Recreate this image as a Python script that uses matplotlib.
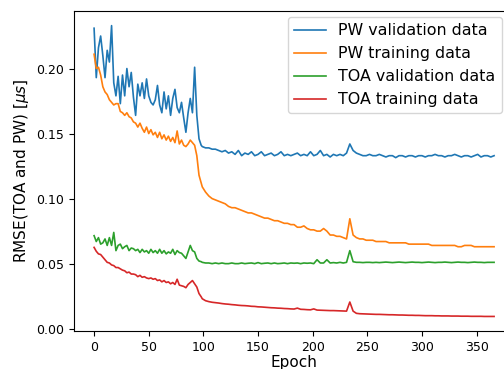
import matplotlib

matplotlib.use("Agg")
import matplotlib.pyplot as plt
import numpy as np

# epochs are sampled every 2 epochs early on, every 3 after the drop
epochs_early = list(range(0, 100, 2))
epochs_late = list(range(99, 367, 3))

pw_val_early = [
    0.231, 0.193, 0.216, 0.225, 0.210, 0.193, 0.214, 0.205, 0.233, 0.189,
    0.179, 0.194, 0.173, 0.195, 0.179, 0.200, 0.186, 0.197, 0.178, 0.164,
    0.188, 0.179, 0.189, 0.177, 0.192, 0.179, 0.174, 0.172, 0.176, 0.187,
    0.172, 0.166, 0.182, 0.169, 0.179, 0.164, 0.177, 0.184, 0.170, 0.166,
    0.174, 0.162, 0.151, 0.166, 0.177, 0.166, 0.201, 0.164, 0.146, 0.141,
]
pw_val_late = [
    0.140, 0.139, 0.139, 0.138, 0.138, 0.137, 0.136, 0.137, 0.135, 0.136,
    0.134, 0.137, 0.133, 0.135, 0.134, 0.136, 0.133, 0.134, 0.136, 0.133,
    0.134, 0.135, 0.133, 0.134, 0.136, 0.133, 0.134, 0.133, 0.134, 0.135,
    0.133, 0.134, 0.133, 0.136, 0.133, 0.134, 0.137, 0.133, 0.134, 0.132,
    0.134, 0.133, 0.134, 0.133, 0.135, 0.142, 0.137, 0.135, 0.134, 0.133,
    0.133, 0.134, 0.133, 0.133, 0.134, 0.133, 0.132, 0.133, 0.133, 0.1315,
    0.133, 0.133, 0.132, 0.133, 0.133, 0.132, 0.133, 0.133, 0.132, 0.133,
    0.133, 0.134, 0.133, 0.133, 0.132, 0.133, 0.133, 0.134, 0.133, 0.132,
    0.133, 0.133, 0.132, 0.133, 0.134, 0.132, 0.133, 0.133, 0.132, 0.133,
]

pw_train_early = [
    0.211, 0.200, 0.201, 0.195, 0.186, 0.182, 0.180, 0.176, 0.174, 0.172,
    0.173, 0.173, 0.167, 0.166, 0.164, 0.166, 0.163, 0.162, 0.159, 0.158,
    0.155, 0.158, 0.154, 0.151, 0.155, 0.150, 0.153, 0.149, 0.151, 0.147,
    0.151, 0.146, 0.149, 0.145, 0.148, 0.144, 0.147, 0.143, 0.152, 0.142,
    0.145, 0.141, 0.140, 0.142, 0.145, 0.143, 0.141, 0.133, 0.118, 0.112,
]
pw_train_late = [
    0.109, 0.105, 0.102, 0.100, 0.099, 0.098, 0.097, 0.096, 0.094, 0.093,
    0.093, 0.092, 0.091, 0.090, 0.089, 0.089, 0.088, 0.087, 0.086, 0.085,
    0.085, 0.084, 0.083, 0.083, 0.082, 0.081, 0.081, 0.080, 0.080, 0.078,
    0.078, 0.079, 0.077, 0.076, 0.076, 0.075, 0.075, 0.077, 0.075, 0.072,
    0.072, 0.071, 0.071, 0.070, 0.069, 0.0845, 0.072, 0.070, 0.069, 0.069,
    0.068, 0.068, 0.068, 0.067, 0.067, 0.067, 0.067, 0.066, 0.066, 0.066,
    0.066, 0.066, 0.066, 0.065, 0.065, 0.065, 0.065, 0.065, 0.065, 0.065,
    0.064, 0.064, 0.064, 0.064, 0.064, 0.064, 0.064, 0.064, 0.063, 0.063,
    0.064, 0.064, 0.064, 0.063, 0.063, 0.063, 0.063, 0.063, 0.063, 0.063,
]

toa_val_early = [
    0.0715, 0.067, 0.070, 0.065, 0.066, 0.069, 0.064, 0.070, 0.064, 0.074,
    0.060, 0.064, 0.065, 0.0615, 0.063, 0.064, 0.060, 0.062, 0.0615, 0.060,
    0.061, 0.0585, 0.061, 0.059, 0.060, 0.058, 0.061, 0.0585, 0.060, 0.058,
    0.061, 0.058, 0.060, 0.0575, 0.059, 0.058, 0.061, 0.057, 0.060, 0.0585,
    0.058, 0.056, 0.054, 0.059, 0.064, 0.060, 0.059, 0.054, 0.052, 0.0515,
]
toa_val_late = [
    0.051, 0.0505, 0.0505, 0.050, 0.0505, 0.050, 0.0505, 0.050, 0.050, 0.0505,
    0.050, 0.050, 0.0505, 0.050, 0.0503, 0.0505, 0.050, 0.0508, 0.050, 0.0503,
    0.0505, 0.050, 0.0505, 0.050, 0.0502, 0.0505, 0.050, 0.0505, 0.0503, 0.0505,
    0.050, 0.0505, 0.0503, 0.0505, 0.050, 0.053, 0.0505, 0.0505, 0.053, 0.0505,
    0.0508, 0.0505, 0.051, 0.0505, 0.051, 0.060, 0.0515, 0.051, 0.051, 0.0508,
    0.051, 0.051, 0.0508, 0.051, 0.0508, 0.051, 0.0512, 0.051, 0.0508, 0.051,
    0.0512, 0.051, 0.0508, 0.051, 0.0512, 0.051, 0.051, 0.0508, 0.051, 0.0512,
    0.051, 0.0508, 0.051, 0.051, 0.0512, 0.051, 0.0508, 0.051, 0.0512, 0.051,
    0.051, 0.0508, 0.051, 0.0512, 0.051, 0.051, 0.0508, 0.051, 0.051, 0.051,
]

toa_train_early = [
    0.0625, 0.0595, 0.0575, 0.057, 0.055, 0.053, 0.051, 0.0505, 0.049, 0.0485,
    0.047, 0.047, 0.046, 0.045, 0.0445, 0.043, 0.0435, 0.042, 0.042, 0.0415,
    0.040, 0.041, 0.0395, 0.040, 0.039, 0.0385, 0.039, 0.038, 0.0385, 0.037,
    0.0375, 0.036, 0.037, 0.0355, 0.036, 0.0345, 0.0355, 0.034, 0.038, 0.0335,
    0.033, 0.0325, 0.0315, 0.034, 0.0355, 0.037, 0.0345, 0.032, 0.027, 0.0245,
]
toa_train_late = [
    0.023, 0.0215, 0.0208, 0.0203, 0.020, 0.0197, 0.0193, 0.019, 0.0188, 0.0185,
    0.0183, 0.018, 0.0178, 0.0177, 0.0175, 0.0172, 0.0171, 0.0168, 0.0167, 0.0165,
    0.0163, 0.0161, 0.016, 0.0158, 0.0157, 0.0155, 0.0154, 0.0152, 0.0151, 0.0158,
    0.0149, 0.0148, 0.0146, 0.0145, 0.0152, 0.0143, 0.0142, 0.0141, 0.014, 0.0139,
    0.0139, 0.0138, 0.0137, 0.0136, 0.0135, 0.0205, 0.0135, 0.0118, 0.0115, 0.0114,
    0.0113, 0.0112, 0.0111, 0.011, 0.011, 0.0109, 0.0108, 0.0107, 0.0107, 0.0106,
    0.0105, 0.0105, 0.0104, 0.0103, 0.0103, 0.0102, 0.0102, 0.0101, 0.010, 0.010,
    0.010, 0.0099, 0.0099, 0.0098, 0.0098, 0.0098, 0.0097, 0.0097, 0.0097, 0.0096,
    0.0096, 0.0096, 0.0095, 0.0095, 0.0095, 0.0095, 0.0094, 0.0094, 0.0094, 0.0094,
]

labels = ["PW validation data", "PW training data", "TOA validation data", "TOA training data"]

epochs = np.array(epochs_early + epochs_late)
series = [
    pw_val_early + pw_val_late,
    pw_train_early + pw_train_late,
    toa_val_early + toa_val_late,
    toa_train_early + toa_train_late,
]

fig = plt.figure(figsize=(5.04, 3.69), dpi=100)
# the original was cropped on the right, so the axes run past the figure edge
ax = fig.add_axes([0.147, 0.103, 0.873, 0.867])
for values, label in zip(series, labels):
    ax.plot(epochs, values, label=label, linewidth=1.2)

ax.set_xticks([0, 50, 100, 150, 200, 250, 300, 350])
ax.set_yticks([0.0, 0.05, 0.10, 0.15, 0.20])
ax.tick_params(labelsize=9)
ax.set_xlabel("Epoch", fontsize=11, labelpad=1)
ax.set_ylabel(r"RMSE(TOA and PW) [$\mu s$]", fontsize=11)
ax.legend(loc="upper right", bbox_to_anchor=(502 / 504, 1 - 17 / 369),
          bbox_transform=fig.transFigure, borderaxespad=0, fontsize=11.4)

fig.savefig("out.png", dpi=100)
plt.close(fig)
